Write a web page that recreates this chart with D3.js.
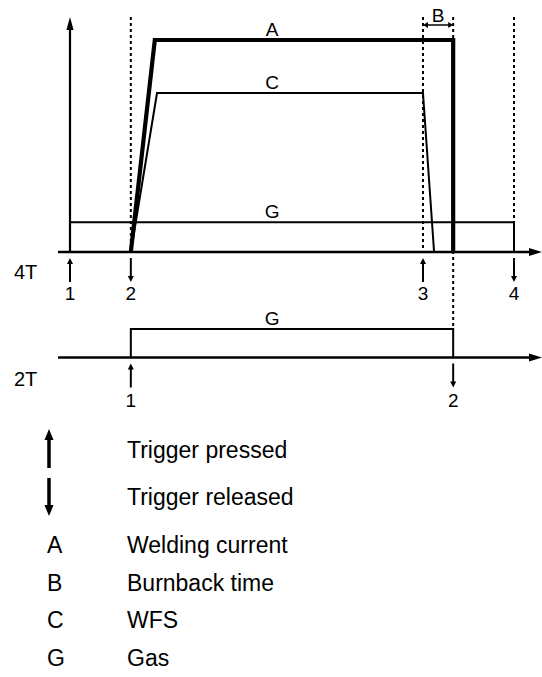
<!DOCTYPE html>
<html>
<head>
<meta charset="utf-8">
<script src="https://cdn.jsdelivr.net/npm/d3@7"></script>
<style>
  html, body { margin: 0; padding: 0; background: #fff; }
  svg { display: block; font-family: "Liberation Sans", Arial, sans-serif; }
</style>
</head>
<body>
<script>
// ---------- data ----------
// time axis in arbitrary units (0 = trigger 1 in 4T mode, 100 = trigger 4)
const currentA = [[13.7, 0], [19.1, 100], [86.3, 100], [86.3, 0]];   // welding current
const wfsC     = [[13.7, 0], [19.6, 75], [79.5, 75], [82.0, 0]];     // wire feed speed
const gas4T    = [[0, 0], [0, 14], [100, 14], [100, 0]];             // gas, 4T
const gas2T    = [[13.7, 0], [13.7, 1], [86.3, 1], [86.3, 0]];       // gas, 2T
const triggers4T = [
  { t: 0,    dir: "up",   label: "1" },
  { t: 13.7, dir: "down", label: "2" },
  { t: 79.5, dir: "up",   label: "3" },
  { t: 100,  dir: "down", label: "4" }
];
const triggers2T = [
  { t: 13.7, dir: "up",   label: "1" },
  { t: 86.3, dir: "down", label: "2" }
];
const guideTimes = [13.7, 79.5, 86.3, 100];
const burnback = [79.5, 86.3];
const seriesLabels = [
  { key: "A", t: 45.5, v: 100 },
  { key: "C", t: 45.5, v: 75 },
  { key: "G", t: 45.5, v: 14 }
];
const modeLabels = ["4T", "2T"];
const triggerLegend = ["Trigger pressed", "Trigger released"];
const legendKeys = ["A", "B", "C", "G"];
const legendTexts = ["Welding current", "Burnback time", "WFS", "Gas"];

// ---------- layout ----------
const W = 542, H = 677;
const svg = d3.select("body").append("svg").attr("width", W).attr("height", H);

const x = d3.scaleLinear().domain([0, 100]).range([70, 514]);
const yTop = d3.scaleLinear().domain([0, 100]).range([252, 40]);
const y2T = d3.scaleLinear().domain([0, 1]).range([357.5, 329]);

const FS_CHART = 19, FS_LEG = 23;

function arrowHead(g, tipX, tipY, dir, len, half) {
  let pts;
  if (dir === "up") pts = [[tipX, tipY], [tipX - half, tipY + len], [tipX + half, tipY + len]];
  else if (dir === "down") pts = [[tipX, tipY], [tipX - half, tipY - len], [tipX + half, tipY - len]];
  else if (dir === "right") pts = [[tipX, tipY], [tipX - len, tipY - half], [tipX - len, tipY + half]];
  else pts = [[tipX, tipY], [tipX + len, tipY - half], [tipX + len, tipY + half]];
  g.append("path").attr("d", "M" + pts.map(p => p.join(",")).join("L") + "Z").attr("fill", "#000");
}

// dotted guides
guideTimes.forEach(t => {
  svg.append("line")
    .attr("x1", x(t)).attr("x2", x(t))
    .attr("y1", 17).attr("y2", t === 86.3 ? 330 : 252)
    .attr("stroke", "#000").attr("stroke-width", 2)
    .attr("stroke-dasharray", "3,3");
});

// axes (4T)
svg.append("line").attr("x1", 58).attr("x2", 531).attr("y1", yTop(0)).attr("y2", yTop(0))
  .attr("stroke", "#000").attr("stroke-width", 2.4);
arrowHead(svg, 542, yTop(0), "right", 13, 4);
svg.append("line").attr("x1", x(0)).attr("x2", x(0)).attr("y1", yTop(0)).attr("y2", 29)
  .attr("stroke", "#000").attr("stroke-width", 2.2);
arrowHead(svg, x(0), 17, "up", 13, 3.6);

// axis (2T)
svg.append("line").attr("x1", 58).attr("x2", 531).attr("y1", y2T(0)).attr("y2", y2T(0))
  .attr("stroke", "#000").attr("stroke-width", 2.4);
arrowHead(svg, 542, y2T(0), "right", 13, 4);

const lineTop = d3.line().x(d => x(d[0])).y(d => yTop(d[1]));
const line2T = d3.line().x(d => x(d[0])).y(d => y2T(d[1]));

svg.append("path").attr("d", lineTop(gas4T)).attr("fill", "none")
  .attr("stroke", "#000").attr("stroke-width", 2);
svg.append("path").attr("d", lineTop(wfsC)).attr("fill", "none")
  .attr("stroke", "#000").attr("stroke-width", 2);
svg.append("path").attr("d", lineTop(currentA)).attr("fill", "none")
  .attr("stroke", "#000").attr("stroke-width", 4.2).attr("stroke-linejoin", "miter");
svg.append("path").attr("d", line2T(gas2T)).attr("fill", "none")
  .attr("stroke", "#000").attr("stroke-width", 2);

// series labels
seriesLabels.forEach(s => {
  svg.append("text").attr("x", x(s.t)).attr("y", yTop(s.v) - 4)
    .attr("text-anchor", "middle").attr("font-size", FS_CHART).text(s.key);
});
svg.append("text").attr("x", x(45.5)).attr("y", y2T(1) - 4)
  .attr("text-anchor", "middle").attr("font-size", FS_CHART).text("G");

// burnback dimension
svg.append("line").attr("x1", x(burnback[0]) + 4).attr("x2", x(burnback[1]) - 4)
  .attr("y1", 25).attr("y2", 25).attr("stroke", "#000").attr("stroke-width", 1.5);
arrowHead(svg, x(burnback[0]), 25, "left", 5, 3);
arrowHead(svg, x(burnback[1]), 25, "right", 5, 3);
svg.append("text").attr("x", (x(burnback[0]) + x(burnback[1])) / 2).attr("y", 22)
  .attr("text-anchor", "middle").attr("font-size", FS_CHART).text("B");

// trigger markers
function triggerMarks(list, axisY, labelY) {
  list.forEach(d => {
    const cx = x(d.t);
    const top = axisY + 6, bot = axisY + 30;
    svg.append("line").attr("x1", cx).attr("x2", cx)
      .attr("y1", d.dir === "up" ? top + 5 : top).attr("y2", d.dir === "up" ? bot : bot - 5)
      .attr("stroke", "#000").attr("stroke-width", 2);
    if (d.dir === "up") arrowHead(svg, cx, top, "up", 6, 3);
    else arrowHead(svg, cx, bot, "down", 6, 3);
    svg.append("text").attr("x", cx).attr("y", labelY)
      .attr("text-anchor", "middle").attr("font-size", FS_CHART).text(d.label);
  });
}
triggerMarks(triggers4T, yTop(0), 300);
triggerMarks(triggers2T, y2T(0), 407);

// mode labels
svg.append("text").attr("x", 14).attr("y", 279).attr("font-size", 20).text(modeLabels[0]);
svg.append("text").attr("x", 14).attr("y", 386).attr("font-size", 20).text(modeLabels[1]);

// legend: trigger arrows
const lgX = 49, txtX = 127;
svg.append("line").attr("x1", lgX).attr("x2", lgX).attr("y1", 438).attr("y2", 468)
  .attr("stroke", "#000").attr("stroke-width", 3.5);
arrowHead(svg, lgX, 429, "up", 11, 4.5);
svg.append("line").attr("x1", lgX).attr("x2", lgX).attr("y1", 478).attr("y2", 507)
  .attr("stroke", "#000").attr("stroke-width", 3.5);
arrowHead(svg, lgX, 516, "down", 11, 4.5);
triggerLegend.forEach((t, i) => {
  svg.append("text").attr("x", txtX).attr("y", 458 + i * 47)
    .attr("font-size", FS_LEG).text(t);
});

legendKeys.forEach((k, i) => {
  const yy = 553 + i * 37.5;
  svg.append("text").attr("x", 47).attr("y", yy).attr("font-size", FS_LEG).text(k);
  svg.append("text").attr("x", txtX).attr("y", yy).attr("font-size", FS_LEG).text(legendTexts[i]);
});
</script>
</body>
</html>
